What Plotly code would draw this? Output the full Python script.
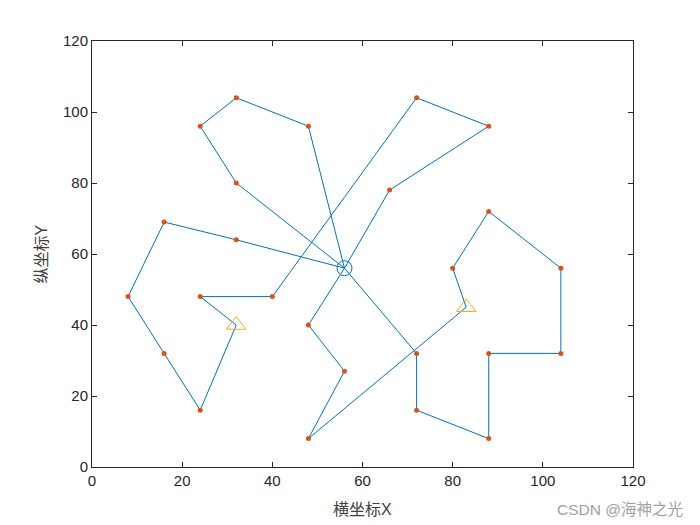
import plotly.graph_objects as go

# vehicle route (depot -> customers / stations -> depot), in visiting order
route_x = [56, 48, 32, 24, 32, 56, 32, 16, 8, 16, 24, 32, 24, 40, 72, 88, 66, 56,
           48, 56, 48, 83, 80, 88, 104, 104, 88, 88, 72, 72, 56]
route_y = [56, 96, 104, 96, 80, 56, 64, 69, 48, 32, 16, 40, 48, 48, 104, 96, 78, 56,
           40, 27, 8, 45, 56, 72, 56, 32, 32, 8, 16, 32, 56]

customer_x = [32, 24, 48, 72, 88, 66, 32, 16, 32, 8, 16, 24, 24, 40, 48, 56, 48,
              72, 72, 88, 88, 104, 104, 88, 80]
customer_y = [104, 96, 96, 104, 96, 78, 80, 69, 64, 48, 32, 16, 48, 48, 40, 27, 8,
              32, 16, 8, 32, 32, 56, 72, 56]

station_x = [32, 83]
station_y = [40, 45]

depot_x = [56]
depot_y = [56]

ticks = [0, 20, 40, 60, 80, 100, 120]

BLUE = "#0072BD"
RED = "#D95319"
YELLOW = "#EDB120"
FONT = "Liberation Sans, Arial, Noto Sans CJK SC, sans-serif"

fig = go.Figure()

fig.add_trace(go.Scatter(
    x=route_x, y=route_y, mode="lines",
    line=dict(color=BLUE, width=1), hoverinfo="skip",
))
fig.add_trace(go.Scatter(
    x=customer_x, y=customer_y, mode="markers",
    marker=dict(color=RED, size=5, line=dict(width=0)),
))
fig.add_trace(go.Scatter(
    x=station_x, y=station_y, mode="markers",
    marker=dict(symbol="triangle-up-open", color=YELLOW, size=17, line=dict(width=1)),
))
fig.add_trace(go.Scatter(
    x=depot_x, y=depot_y, mode="markers",
    marker=dict(symbol="circle-open", color=BLUE, size=15, line=dict(width=1)),
))

axis_style = dict(
    range=[0, 120], tickvals=ticks, showgrid=False, zeroline=False,
    showline=True, linecolor="#262626", linewidth=1, mirror="ticks",
    ticks="inside", ticklen=5, tickcolor="#262626",
    tickfont=dict(family=FONT, size=15, color="#262626"),
)

fig.update_xaxes(**axis_style)
fig.update_yaxes(**axis_style)

fig.update_layout(
    width=700, height=525,
    margin=dict(l=84, r=75, t=33, b=66),
    plot_bgcolor="white", paper_bgcolor="white",
    showlegend=False,
    font=dict(family=FONT),
    annotations=[
        dict(text="横坐标X", x=0.5, y=-0.099, xref="paper", yref="paper",
             xanchor="center", yanchor="middle", showarrow=False,
             font=dict(size=16, color="#404040")),
        dict(text="纵坐标Y", x=-0.095, y=0.5, xref="paper", yref="paper",
             xanchor="center", yanchor="middle", showarrow=False, textangle=-90,
             font=dict(size=16, color="#404040")),
        dict(text="CSDN @海神之光", x=1.0, y=-0.099, xref="paper", yref="paper",
             xanchor="center", yanchor="middle", showarrow=False,
             xshift=-13, font=dict(size=15.5, color="#A0A0A0")),
    ],
)

fig.write_html("out.html")
